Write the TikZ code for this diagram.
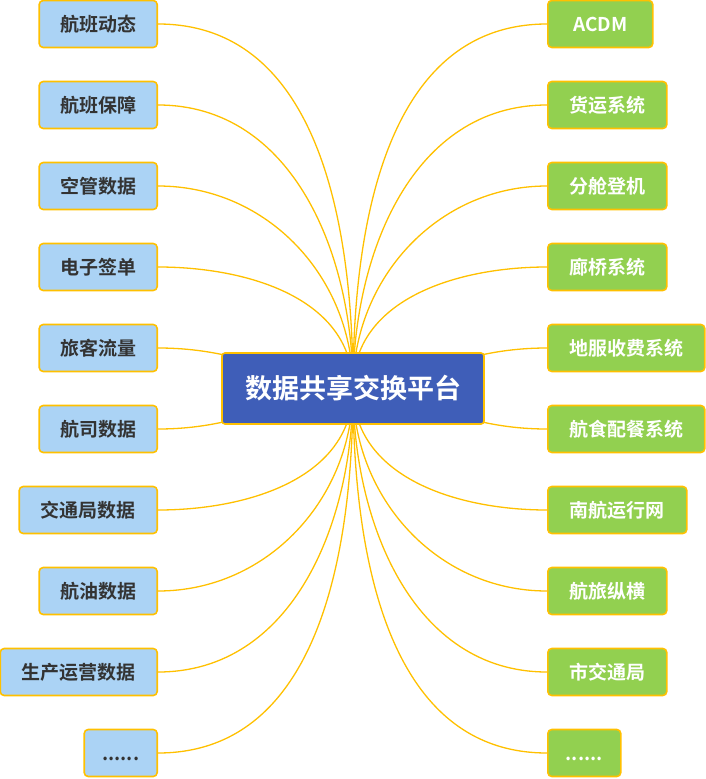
\documentclass[tikz,border=0pt]{standalone}
\usepackage{fontspec}
\setmainfont{Noto Sans CJK SC}[BoldFont={* Bold}]
\newfontfamily\cjk{Noto Sans CJK SC Bold}
\definecolor{edgeor}{HTML}{FFC000}
\definecolor{lblue}{HTML}{ABD3F5}
\definecolor{lgreen}{HTML}{92D050}
\definecolor{cblue}{HTML}{3F5EB8}
\definecolor{dtext}{HTML}{333333}
\begin{document}
\begin{tikzpicture}[x=1pt,y=-1pt,
  base/.style={draw=edgeor,line width=1.6pt,rounded corners=4pt,minimum height=47pt,inner sep=0pt,font=\cjk\fontsize{19}{19}\selectfont},
  lbox/.style={base,fill=lblue,text=dtext,anchor=east},
  rbox/.style={base,fill=lgreen,text=white,anchor=west},
  cbox/.style={draw=edgeor,line width=1.6pt,rounded corners=3pt,fill=cblue,text=white,minimum width=262pt,minimum height=71pt,inner sep=0pt,font=\cjk\fontsize{27}{27}\selectfont},
  link/.style={draw=edgeor,line width=1.3pt}]
\useasboundingbox (0,0) rectangle (705,779);
\coordinate (hub) at (353,388);
% left
\node[lbox,minimum width=118pt] (l1) at (158,24) {航班动态};
\node[lbox,minimum width=118pt] (l2) at (158,105) {航班保障};
\node[lbox,minimum width=118pt] (l3) at (158,186) {空管数据};
\node[lbox,minimum width=118pt] (l4) at (158,267) {电子签单};
\node[lbox,minimum width=118pt] (l5) at (158,348) {旅客流量};
\node[lbox,minimum width=118pt] (l6) at (158,429) {航司数据};
\node[lbox,minimum width=138pt] (l7) at (158,510) {交通局数据};
\node[lbox,minimum width=118pt] (l8) at (158,591) {航油数据};
\node[lbox,minimum width=157pt] (l9) at (158,672) {生产运营数据};
\node[lbox,minimum width=73pt] (l10) at (158,753) {\vphantom{航}......};
% right
\node[rbox,minimum width=105pt] (r1) at (547,24) {ACDM};
\node[rbox,minimum width=119pt] (r2) at (547,105) {货运系统};
\node[rbox,minimum width=119pt] (r3) at (547,186) {分舱登机};
\node[rbox,minimum width=119pt] (r4) at (547,267) {廊桥系统};
\node[rbox,minimum width=157pt] (r5) at (547,348) {地服收费系统};
\node[rbox,minimum width=157pt] (r6) at (547,429) {航食配餐系统};
\node[rbox,minimum width=139pt] (r7) at (547,510) {南航运行网};
\node[rbox,minimum width=119pt] (r8) at (547,591) {航旅纵横};
\node[rbox,minimum width=119pt] (r9) at (547,672) {市交通局};
\node[rbox,minimum width=73pt] (r10) at (547,753) {\vphantom{航}......};
% links
\foreach \i in {1,...,4}{
  \draw[link] (l\i.east) to[out=0,in=90] (hub);
  \draw[link] (r\i.west) to[out=180,in=90] (hub);
}
\foreach \i in {7,...,10}{
  \draw[link] (l\i.east) to[out=0,in=-90] (hub);
  \draw[link] (r\i.west) to[out=180,in=-90] (hub);
}
\draw[link] (l5.east) to[out=0,in=170] (hub);
\draw[link] (l6.east) to[out=0,in=190] (hub);
\draw[link] (r5.west) to[out=180,in=10] (hub);
\draw[link] (r6.west) to[out=180,in=-10] (hub);
\node[cbox] (c) at (353,388.5) {数据共享交换平台};
\end{tikzpicture}
\end{document}
